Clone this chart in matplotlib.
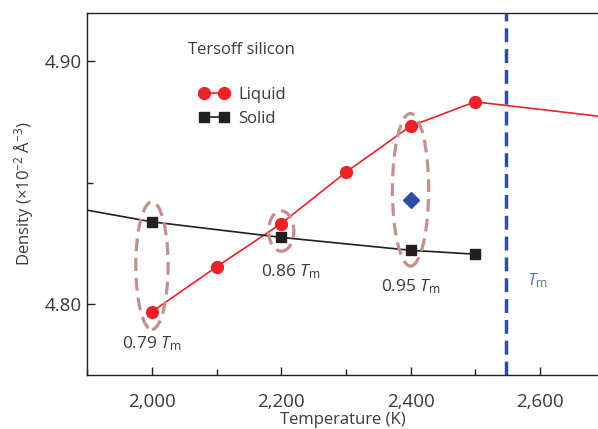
import matplotlib
matplotlib.use("Agg")
import matplotlib.pyplot as plt
from matplotlib.patches import Ellipse
from matplotlib.ticker import MultipleLocator, FuncFormatter

plt.rcParams['font.family'] = ['Open Sans', 'DejaVu Sans']
plt.rcParams['mathtext.fontset'] = 'custom'
plt.rcParams['mathtext.rm'] = 'Open Sans'
plt.rcParams['mathtext.it'] = 'Open Sans:italic'

# data
liquid_T = [2000, 2100, 2200, 2300, 2400, 2500, 2690]
liquid_rho = [4.797, 4.8155, 4.8333, 4.8544, 4.8734, 4.8834, 4.8775]
liquid_marked = [0, 1, 2, 3, 4, 5]
solid_T = [1900, 2000, 2200, 2400, 2500]
solid_rho = [4.8388, 4.834, 4.8276, 4.8223, 4.8207]
solid_marked = [1, 2, 3, 4]
diamond_T = [2400]
diamond_rho = [4.8429]
T_melt = 2547

# ellipses: (center T, center rho, width, height)
ellipses = [(2000, 4.8160, 50, 0.0525),
            (2200, 4.8302, 39, 0.0166),
            (2400, 4.8472, 56, 0.0628)]
labels = [("0.79", 1953, 4.784), ("0.86", 2168, 4.8135), ("0.95", 2354, 4.8074)]

red = '#ec2227'
black = '#231f20'
blue = '#2e4ea6'
txt = '#3a3a3a'

fig = plt.figure(figsize=(5.98, 4.29), dpi=100)
ax = fig.add_axes([0.146, 0.126, 0.854, 0.844])

lq, = ax.plot(liquid_T, liquid_rho, color=red, lw=1.2, marker='o', ms=8.5,
              markevery=liquid_marked, zorder=4)
sd, = ax.plot(solid_T, solid_rho, color=black, lw=1.2, marker='s', ms=7,
              markevery=solid_marked, zorder=4)
ax.plot(diamond_T, diamond_rho, marker='D', color=blue, ms=8, ls='none', zorder=4)
ax.axvline(T_melt, color=blue, lw=2.5, ls=(0, (4, 2)), zorder=3)

for cx, cy, w, h in ellipses:
    ax.add_patch(Ellipse((cx, cy), w, h, fill=False, ec='#c4908f', lw=2.3,
                         ls=(0, (4, 2.2)), zorder=5))

for val, x, y in labels:
    ax.text(x, y, val + r' $\mathit{T}_{\mathrm{m}}$', fontsize=12.5, color=txt,
            ha='left', va='center')
ax.text(2580, 4.810, r'$\mathit{T}_{\mathrm{m}}$', fontsize=12.5, color='#5470c0',
        ha='left', va='center')
ax.text(2055, 4.9047, 'Tersoff silicon', fontsize=12, color=txt, va='center')

ax.legend([lq, sd], ['Liquid', 'Solid'], loc='upper left',
          bbox_to_anchor=(0.19, 0.838), frameon=False, numpoints=2,
          handlelength=1.75, handletextpad=0.6, labelspacing=0.5, fontsize=12,
          labelcolor=txt)

ax.set_xlim(1900, 2690)
ax.set_ylim(4.771, 4.92)
ax.xaxis.set_major_locator(MultipleLocator(200))
ax.xaxis.set_minor_locator(MultipleLocator(100))
ax.yaxis.set_major_locator(MultipleLocator(0.1))
ax.yaxis.set_minor_locator(MultipleLocator(0.05))
ax.xaxis.set_major_formatter(FuncFormatter(lambda v, p: f'{int(v):,}'))
ax.yaxis.set_major_formatter(FuncFormatter(lambda v, p: f'{v:.2f}'))
ax.tick_params(which='both', direction='in', labelsize=13.5, labelcolor=txt,
               color=black, width=1)
ax.tick_params(which='major', length=6)
ax.tick_params(which='minor', length=4)
ax.tick_params(axis='x', which='major', pad=13)
ax.tick_params(axis='y', which='major', pad=4)
ax.spines['right'].set_visible(False)
for s in ['left', 'top', 'bottom']:
    ax.spines[s].set_linewidth(1)
    ax.spines[s].set_color(black)

ax.set_xlabel('Temperature (K)', fontsize=12, color=txt, labelpad=1)
ax.set_ylabel('Density (×10$^{-2}$ Å$^{-3}$)', fontsize=12, color=txt, labelpad=6)

fig.savefig('out.png', dpi=100)
